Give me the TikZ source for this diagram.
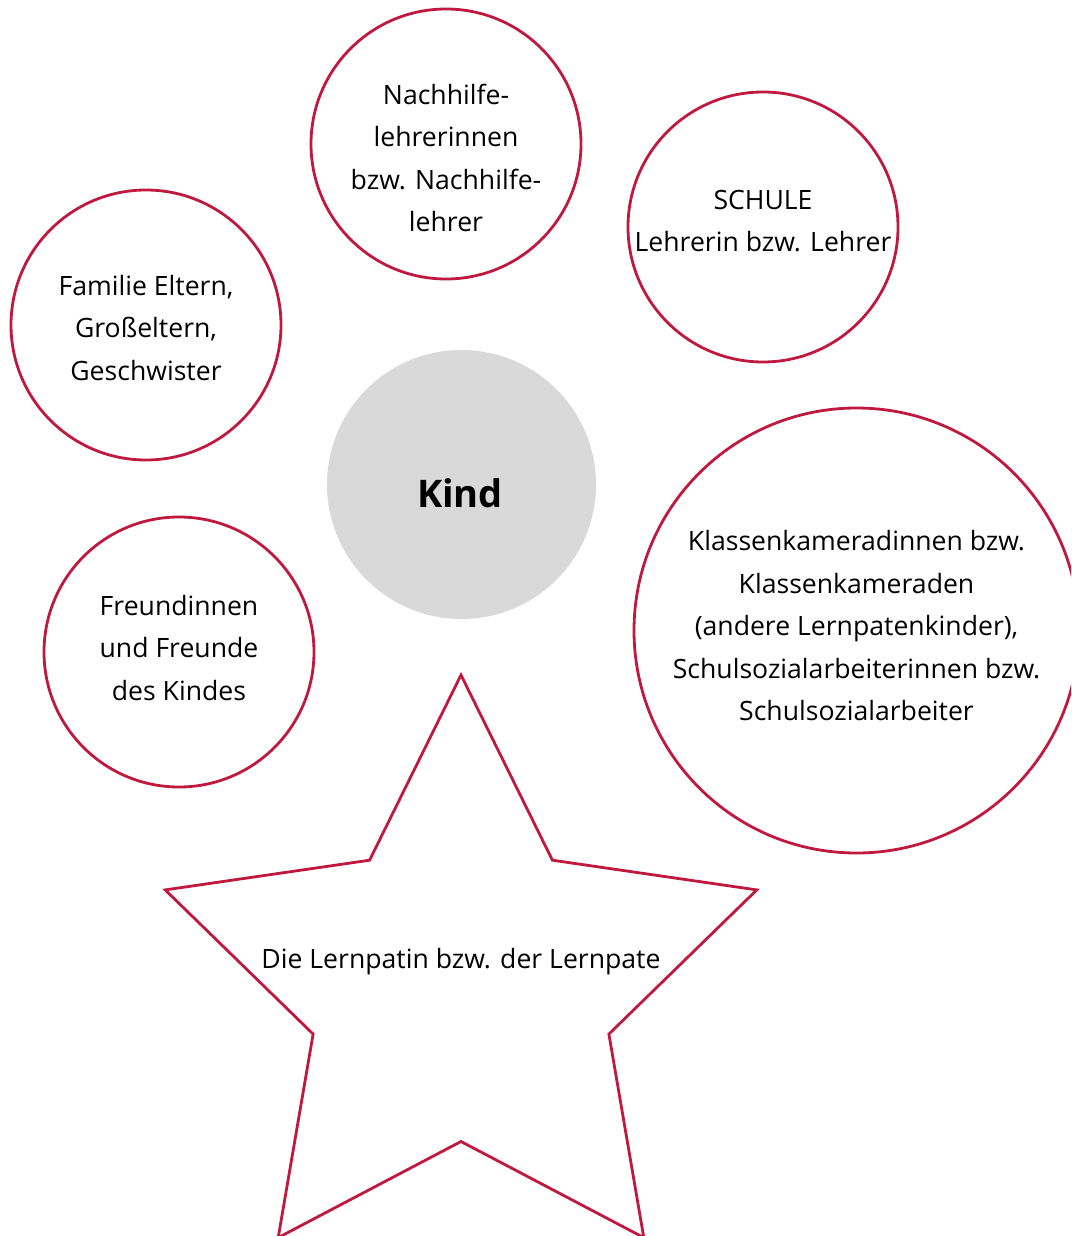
\documentclass[tikz,border=0pt]{standalone}
\usepackage{fontspec}
\setmainfont{Open Sans}
\usetikzlibrary{shapes.geometric}
\definecolor{ringred}{HTML}{C0193F}
\definecolor{kindgray}{HTML}{D9D9D9}

\begin{document}
\begin{tikzpicture}[x=0.5pt, y=-0.5pt,
	ring/.style = {draw=ringred, line width=1.4pt, circle, inner sep=0pt},
	txt/.style = {align=center, inner sep=0pt, font=\fontsize{13.3}{21.25}\selectfont}]
\useasboundingbox (0,0) rectangle (1071,1236);
\clip (0,0) rectangle (1071,1236);
% circles round the child
\node[ring, minimum size=135pt] (nachhilfe) at (446,144) {};
\node[ring, minimum size=135pt] (schule) at (763,227) {};
\node[ring, minimum size=135pt] (familie) at (146,325) {};
\node[ring, minimum size=135pt] (freunde) at (179,652) {};
\node[ring, minimum size=222.5pt] (klasse) at (856.5,630.5) {};
\node[circle, fill=kindgray, minimum size=134.5pt, inner sep=0pt] (kind) at (461.5,484.5) {};
\node[draw=ringred, line width=1.4pt, star, star points=5, star point ratio=2.0,
	minimum size=311pt, inner sep=0pt] (pate) at (461,986) {};
% texts
\node[txt] (nachhilfetxt) at (446,158) {Nachhilfe-\\lehrerinnen\\bzw. Nachhilfe-\\lehrer};
\node[txt] (schuletxt) at (763,221) {SCHULE\\Lehrerin bzw. Lehrer};
\node[txt] (familietxt) at (146,328) {Familie Eltern,\\Großeltern,\\Geschwister};
\node[txt] (freundetxt) at (179,648) {Freundinnen\\und Freunde\\des Kindes};
\node[txt] (klassetxt) at (856.5,626) {Klassenkameradinnen bzw.\\Klassenkameraden\\(andere Lernpatenkinder),\\Schulsozialarbeiterinnen bzw.\\Schulsozialarbeiter};
\node[font=\fontsize{19}{23}\selectfont\bfseries, inner sep=0pt] (kindtxt) at (460,493) {Kind};
\node[txt] (patetxt) at (461,962) {Die Lernpatin bzw. der Lernpate};
\end{tikzpicture}
\end{document}
